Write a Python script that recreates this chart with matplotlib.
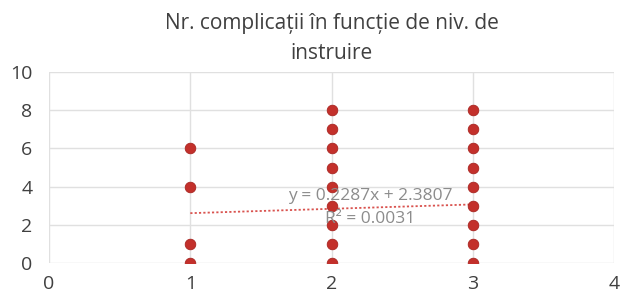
import matplotlib
matplotlib.use("Agg")
import matplotlib.pyplot as plt
import numpy as np

plt.rcParams["font.family"] = ["Open Sans", "DejaVu Sans"]

# data
x_1 = [1, 1, 1, 1]
y_1 = [0, 1, 4, 6]
x_2 = [2] * 9
y_2 = [0, 1, 2, 3, 4, 5, 6, 7, 8]
x_3 = [3] * 9
y_3 = [0, 1, 2, 3, 4, 5, 6, 7, 8]
slope = 0.2287
intercept = 2.3807
r2 = 0.0031
title = "Nr. complicații în funcție de niv. de\ninstruire"

xs = x_1 + x_2 + x_3
ys = y_1 + y_2 + y_3

fig = plt.figure(figsize=(6.24, 2.97), dpi=100)
ax = fig.add_axes([0.0785, 0.1145, 0.906, 0.643])

ax.scatter(xs, ys, s=58, color="#c3302b", edgecolors="#a82420",
           linewidths=0.6, zorder=3)

tx = np.array([1, 3])
ax.plot(tx, slope * tx + intercept, linestyle=(0, (1.2, 1.2)),
        color="#d9534f", linewidth=1.3, zorder=2)

ax.text(2.27, 3.52, f"y = {slope}x + {intercept}", ha="center", va="center",
        fontsize=12.5, color="#8c8c8c", zorder=4)
ax.text(2.27, 2.28, f"R² = {r2}", ha="center", va="center",
        fontsize=12.5, color="#8c8c8c", zorder=4)

ax.set_xlim(0, 4)
ax.set_ylim(0, 10)
ax.set_xticks([0, 1, 2, 3, 4])
ax.set_yticks([0, 2, 4, 6, 8, 10])
ax.grid(True, color="#e0e0e0", linewidth=1)
ax.set_axisbelow(True)
for s in ax.spines.values():
    s.set_visible(False)
ax.tick_params(length=0, labelsize=14, colors="#404040")
ax.tick_params(axis="y", pad=12)
ax.tick_params(axis="x", pad=9)

fig.text(0.532, 0.870, title, ha="center", va="center", fontsize=15,
         color="#404040", linespacing=1.55)

fig.savefig("out.png", dpi=100)
